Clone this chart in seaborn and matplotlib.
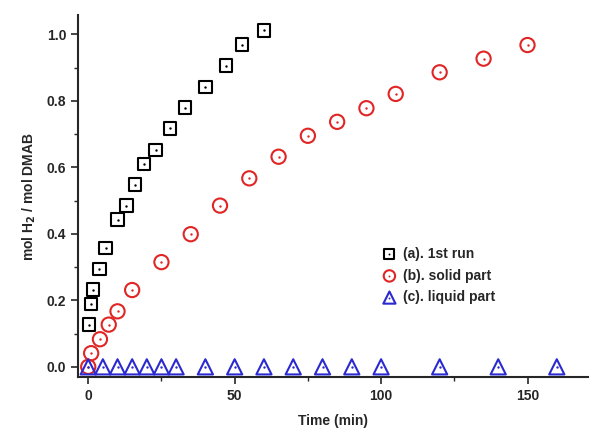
import pandas as pd
import seaborn as sns
import matplotlib.pyplot as plt
from matplotlib.ticker import MultipleLocator

# (a) 1st run
run1_time = [0.3, 1, 1.7, 3.8, 5.9, 10, 13, 16, 19, 23, 28, 33, 40, 47, 52.5, 60]
run1_h2 = [0.127, 0.189, 0.232, 0.295, 0.358, 0.443, 0.485, 0.548, 0.611,
           0.653, 0.717, 0.780, 0.842, 0.906, 0.969, 1.012]

# (b) solid part
solid_time = [0, 1, 4, 7, 10, 15, 25, 35, 45, 55, 65, 75, 85, 95, 105, 120, 135, 150]
solid_h2 = [0.0, 0.041, 0.083, 0.127, 0.167, 0.231, 0.315, 0.399, 0.485, 0.567,
            0.632, 0.695, 0.737, 0.778, 0.821, 0.886, 0.927, 0.968]

# (c) liquid part
liquid_time = [0, 5, 10, 15, 20, 25, 30, 40, 50, 60, 70, 80, 90, 100, 120, 140, 160]
liquid_h2 = [0.0] * len(liquid_time)

labels = ["(a). 1st run", "(b). solid part", "(c). liquid part"]

sns.set_style("ticks")
plt.rcParams['font.family'] = ['Liberation Sans', 'DejaVu Sans']
plt.rcParams['font.weight'] = 'bold'
plt.rcParams['axes.labelweight'] = 'bold'

fig = plt.figure(figsize=(5.89, 4.32), dpi=100)
ax = fig.add_axes([0.1324, 0.127, 0.8676, 0.838])

series = [
    (run1_time, run1_h2, "black", "s", 80),
    (solid_time, solid_h2, "#e02525", "o", 105),
    (liquid_time, liquid_h2, "#2a2ad0", "^", 120),
]

handles = []
for (t, y, col, mk, size), lab in zip(series, labels):
    df = pd.DataFrame({"time": t, "h2": y})
    n0 = len(ax.collections)
    sns.scatterplot(data=df, x="time", y="h2", ax=ax, marker=mk, s=size,
                    facecolors="none", edgecolor=col, linewidth=1.5, zorder=3)
    sns.scatterplot(data=df, x="time", y="h2", ax=ax, marker="o", s=3,
                    color=col, edgecolor=col, linewidth=0, zorder=4)
    handles.append((ax.collections[n0], ax.collections[n0 + 1]))

ax.set_xlim(-3.5, 171)
ax.set_ylim(-0.031, 1.058)
ax.xaxis.set_major_locator(MultipleLocator(50))
ax.xaxis.set_minor_locator(MultipleLocator(25))
ax.yaxis.set_major_locator(MultipleLocator(0.2))
ax.yaxis.set_minor_locator(MultipleLocator(0.1))
ax.yaxis.set_major_formatter(plt.FormatStrFormatter('%.1f'))
ax.tick_params(which='major', direction='out', length=5, width=1.2, labelsize=10)
ax.tick_params(which='minor', direction='out', length=3, width=1.0)
for s in ['left', 'bottom']:
    ax.spines[s].set_linewidth(1.5)
sns.despine(ax=ax)

ax.set_xlabel("Time (min)", fontsize=10, labelpad=8)
ax.set_ylabel("mol H$_\\mathbf{2}$ / mol DMAB", fontsize=10, labelpad=6)

ax.legend(handles, labels, loc='upper left', bbox_to_anchor=(0.585, 0.375),
          frameon=False, fontsize=10, handletextpad=0.5, labelspacing=0.55,
          handlelength=1.0, borderaxespad=0, markerscale=0.8)

fig.savefig("out.png", dpi=100)
